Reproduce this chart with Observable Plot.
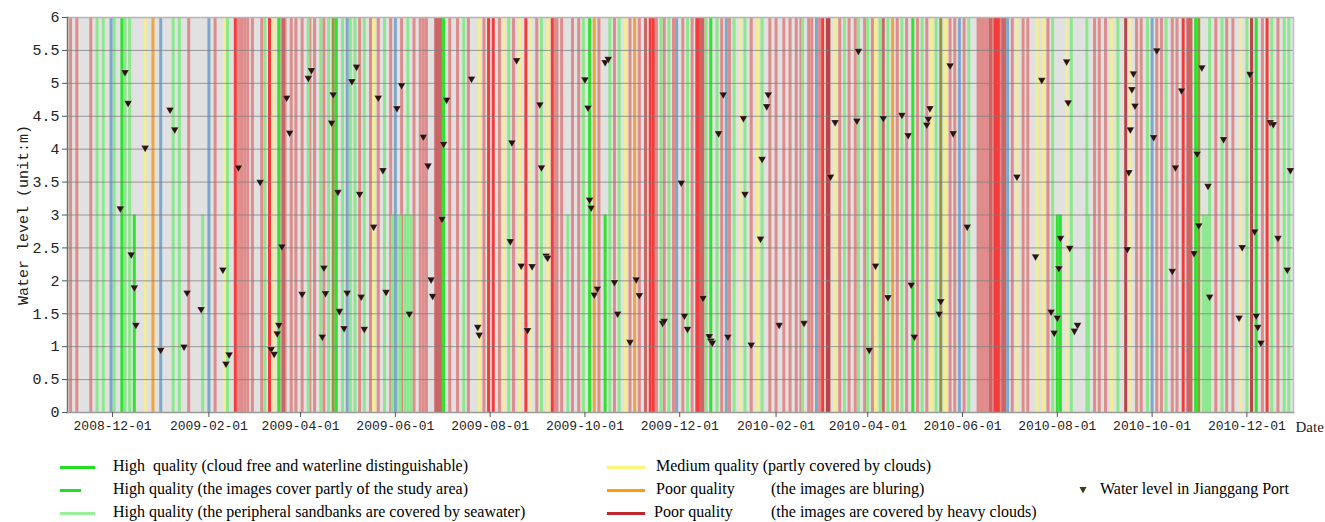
<!DOCTYPE html>
<html><head><meta charset="utf-8">
<script src="https://cdn.jsdelivr.net/npm/d3@7"></script>
<script src="https://cdn.jsdelivr.net/npm/@observablehq/plot@0.6"></script>
<style>
body{margin:0;background:#fff;}
#wrap{position:relative;width:1325px;height:522px;overflow:hidden;background:#fff}
.leg{position:absolute;font-family:"Liberation Serif","Times New Roman",serif;font-size:16px;color:#000;white-space:pre;line-height:18px}
.sw{position:absolute;height:3px}
</style></head><body><div id="wrap"><div id="chart"></div></div>
<script>
// Observation days are counted from the series start date
const START = Date.UTC(2008, 10, 2);
const END = Date.UTC(2010, 11, 31);
const toDate = d => new Date(START + d * 864e5);

// Image quality per day (day index since 2008-11-02)
const cloudFreeDays = [35, 136, 173, 242, 336, 414, 544, 726, 765];
const partialCoverDays = [43, 346, 637, 639];
const sandbankDays = [19, 23, 30, 37, 40, 68, 72, 103, 127, 155, 163, 168, 177, 182, 185, 191, 204, 219, 255, 284, 305, 332, 349, 355, 382, 387, 399, 411, 418, 429, 436, 447, 473, 500, 509, 515, 523, 528, 537, 550, 559, 580, 634, 646, 656, 676, 695, 707, 735, 743, 759, 775, 783, 786];
const sandbankPartialDays = [87, 209, 212, 214, 217, 221, 322, 657, 731, 733];
const mediumDays = [50, 101, 133, 197, 265, 281, 291, 298, 309, 359, 433, 444, 494, 520, 556, 565, 611, 624, 628, 643, 672, 684, 755];
const blurDays = [55, 339, 365, 531];
const heavyCloudDays = [2, 6, 15, 78, 95, 110, 112, 114, 116, 119, 125, 138, 140, 144, 147, 151, 156, 159, 165, 188, 195, 200, 208, 215, 223, 227, 229, 231, 246, 251, 258, 268, 278, 287, 302, 314, 315, 318, 325, 329, 342, 352, 362, 368, 379, 384, 390, 396, 402, 421, 426, 440, 452, 456, 461, 465, 469, 472, 477, 479, 484, 497, 503, 507, 513, 518, 534, 540, 547, 553, 568, 571, 577, 586, 587, 588, 589, 590, 591, 592, 593, 595, 596, 600, 601, 608, 615, 618, 631, 661, 664, 668, 688, 691, 701, 704, 711, 714, 739, 746, 750, 769, 779];
const heavyCloudDenseDays = [139, 237, 238, 239, 240, 372, 408, 409, 525, 594, 602, 603, 721, 722, 723];
const heavyCloudRedDays = [108, 130, 271, 274, 295, 312, 375, 377, 405, 406, 486, 597, 598, 599, 718, 772];
const heavyCloudDarkDays = [489, 490, 681, 762];
const otherDays = [28, 60, 91, 180, 211, 392, 424, 482, 574, 605, 698];
const mixedDays = [171, 562, 728];

// Water level in Jianggang Port (m)
const waterDays = [
  34, 37, 39, 41, 43, 44, 50, 60, 66, 69,
  75, 77, 86, 100, 102, 104, 110, 124, 131, 133,
  135, 136, 138, 141, 143, 151, 155, 157, 164, 165,
  166, 170, 171, 174, 175, 178, 180, 183, 186, 188,
  189, 191, 197, 200, 203, 205, 212, 215, 220, 229,
  232, 234, 235, 241, 242, 244, 260, 264, 265, 286,
  285, 289, 292, 296, 299, 304, 305, 308, 309, 333,
  335, 336, 337, 339, 341, 346, 348, 352, 354, 362,
  366, 368, 383, 384, 395, 397, 399, 409, 413, 414,
  415, 419, 422, 425, 435, 436, 440, 446, 447, 450,
  451, 458, 474, 491, 494, 508, 509, 516, 520, 525,
  528, 537, 541, 543, 545, 553, 554, 555, 561, 562,
  568, 570, 579, 611, 627, 623, 633, 635, 637, 638,
  639, 643, 644, 645, 648, 650, 682, 683, 684, 685,
  686, 687, 699, 701, 711, 713, 717, 725, 727, 728,
  730, 734, 735, 744, 754, 756, 761, 764, 765, 766,
  768, 774, 776, 779, 785, 787];
const waterLevels = [
  3.1, 5.17, 4.7, 2.4, 1.9, 1.33, 4.02, 0.95, 4.6, 4.3,
  1.0, 1.82, 1.57, 2.17, 0.74, 0.88, 3.72, 3.5, 0.96, 0.89,
  1.2, 1.33, 2.52, 4.78, 4.25, 1.8, 5.08, 5.2, 1.15, 2.2,
  1.81, 4.4, 4.83, 3.35, 1.54, 1.28, 1.82, 5.03, 5.25, 3.32,
  1.76, 1.27, 2.82, 4.78, 3.68, 1.83, 4.62, 4.97, 1.5, 4.19,
  3.75, 2.02, 1.77, 2.94, 4.08, 4.75, 5.07, 1.3, 1.18, 4.1,
  2.6, 5.35, 2.23, 1.25, 2.22, 4.68, 3.72, 2.38, 2.35, 5.06,
  4.63, 3.23, 3.11, 1.79, 1.88, 5.32, 5.37, 1.98, 1.5, 1.07,
  2.02, 1.78, 1.36, 1.39, 3.49, 1.47, 1.27, 1.74, 1.16, 1.09,
  1.06, 4.24, 4.83, 1.15, 4.47, 3.32, 1.03, 2.64, 3.85, 4.65,
  4.83, 1.33, 1.36, 3.58, 4.41, 4.43, 5.49, 0.95, 2.23, 4.47,
  1.75, 4.52, 4.21, 1.94, 1.15, 4.37, 4.46, 4.62, 1.5, 1.69,
  5.27, 4.24, 2.82, 3.58, 5.05, 2.37, 1.53, 1.21, 1.44, 2.19,
  2.65, 5.33, 4.71, 2.5, 1.24, 1.33, 2.48, 3.65, 4.3, 4.91,
  5.15, 4.66, 4.18, 5.5, 2.15, 3.72, 4.89, 2.42, 3.93, 2.84,
  5.24, 3.44, 1.76, 4.15, 1.44, 2.51, 5.14, 2.75, 1.47, 1.3,
  1.06, 4.41, 4.38, 2.65, 2.17, 3.68];

const xTickDates = ["2008-12-01", "2009-02-01", "2009-04-01", "2009-06-01", "2009-08-01", "2009-10-01", "2009-12-01", "2010-02-01", "2010-04-01", "2010-06-01", "2010-08-01", "2010-10-01", "2010-12-01"];
const yTicks = [0, 0.5, 1, 1.5, 2, 2.5, 3, 3.5, 4, 4.5, 5, 5.5, 6];

// Build the line table (draw order matters: pinks underneath)
const groups = [
  [heavyCloudDays, "#df8c8c", 6],
  [heavyCloudDenseDays, "#cc6666", 6],
  [sandbankDays, "#8ce88c", 6],
  [sandbankPartialDays, "#8ce88c", 3],
  [mediumDays, "#f3ed96", 6],
  [otherDays, "#7ea8cb", 6],
  [mixedDays, "#8f9c3a", 6],
  [blurDays, "#f0a43c", 6],
  [heavyCloudRedDays, "#f43b3b", 6],
  [heavyCloudDarkDays, "#b84545", 6],
  [cloudFreeDays, "#2fe32f", 6],
  [partialCoverDays, "#2fe32f", 3]
];
const lines = groups.flatMap(([days, color, top]) => days.map(d => ({date: toDate(d), color, top})));
const water = waterDays.map((d, i) => ({date: toDate(d), level: waterLevels[i]}));

const mono = '"Liberation Mono","DejaVu Sans Mono",monospace';

const chart = Plot.plot({
  width: 1325,
  height: 445,
  marginLeft: 67,
  marginRight: 32,
  marginTop: 17,
  marginBottom: 33,
  style: {background: "#fff", overflow: "visible"},
  x: {type: "utc", domain: [new Date(START), new Date(END)]},
  y: {domain: [0, 6]},
  marks: [
    Plot.frame({fill: "#e1e1e1", stroke: null}),
    Plot.ruleX(lines, {x: "date", y1: 0, y2: "top", stroke: "color", strokeWidth: 3}),
    Plot.ruleY(yTicks.filter(t => t > 0 && t < 6), {stroke: "#7d7d7d", strokeOpacity: 0.75, strokeWidth: 1}),
    Plot.ruleY([6], {stroke: "#b5b5b5", strokeWidth: 1.5}),
    Plot.frame({anchor: "right", stroke: "#c0c0c0", strokeWidth: 1.5}),
    Plot.frame({anchor: "left", stroke: "#707070", strokeWidth: 1.5}),
    Plot.frame({anchor: "bottom", stroke: "#9a9a9a", strokeWidth: 1.5}),
    Plot.dot(water, {x: "date", y: "level", symbol: "triangle", rotate: 180, r: 2.9, fill: "#2a1212", stroke: "#ffffff", strokeOpacity: 0.35, strokeWidth: 0.6}),
    Plot.axisY({ticks: yTicks, tickSize: 5, tickPadding: 3, tickFormat: d => String(d), fontSize: 15, fontFamily: mono, fill: "#222", stroke: "#555",
      label: "Water level (unit:m)", labelAnchor: "center", labelArrow: "none", labelOffset: 50}),
    Plot.axisX({ticks: xTickDates.map(s => new Date(s)), tickSize: 5, tickPadding: 3, tickFormat: d3.utcFormat("%Y-%m-%d"),
      fontSize: 13, fontFamily: mono, fill: "#222", stroke: "#555", label: null}),
    Plot.text(["Date"], {frameAnchor: "bottom-right", dx: 2, dy: 19, textAnchor: "start", fontSize: 15, fontFamily: '"Liberation Serif",serif', fill: "#222"})
  ]
});
document.getElementById("chart").appendChild(chart);

// Legend
const wrap = document.getElementById("wrap");
function sw(x1, x2, y, color) {
  const e = document.createElement("div"); e.className = "sw";
  e.style.left = x1 + "px"; e.style.width = (x2 - x1) + "px"; e.style.top = (y - 1.5) + "px"; e.style.background = color;
  wrap.appendChild(e);
}
function tx(x, y, s) {
  const e = document.createElement("div"); e.className = "leg";
  e.style.left = x + "px"; e.style.top = (y - 10) + "px"; e.textContent = s;
  wrap.appendChild(e);
}
const rows = [467, 490, 513];
sw(60, 95, rows[0], "#22dd22"); tx(113, rows[0], "High  quality (cloud free and waterline distinguishable)");
sw(60, 81, rows[1], "#22dd22"); tx(113, rows[1], "High quality (the images cover partly of the study area)");
sw(60, 95, rows[2], "#9bef9b"); tx(113, rows[2], "High quality (the peripheral sandbanks are covered by seawater)");
sw(607, 645, rows[0], "#fff27a"); tx(656, rows[0], "Medium quality (partly covered by clouds)");
sw(607, 645, rows[1], "#ff9a0a"); tx(656, rows[1], "Poor quality"); tx(771, rows[1], "(the images are bluring)");
sw(607, 645, rows[2], "#c0272c"); tx(654, rows[2], "Poor quality"); tx(771, rows[2], "(the images are covered by heavy clouds)");
const tri = document.createElementNS("http://www.w3.org/2000/svg", "svg");
tri.setAttribute("width", 10); tri.setAttribute("height", 10);
tri.style.position = "absolute"; tri.style.left = "1078px"; tri.style.top = (rows[1] - 5) + "px";
tri.innerHTML = '<polygon points="1.5,2 8.5,2 5,8.5" fill="#3d3a14"/>';
wrap.appendChild(tri);
tx(1100, rows[1], "Water level in Jianggang Port");
</script>
</body></html>
